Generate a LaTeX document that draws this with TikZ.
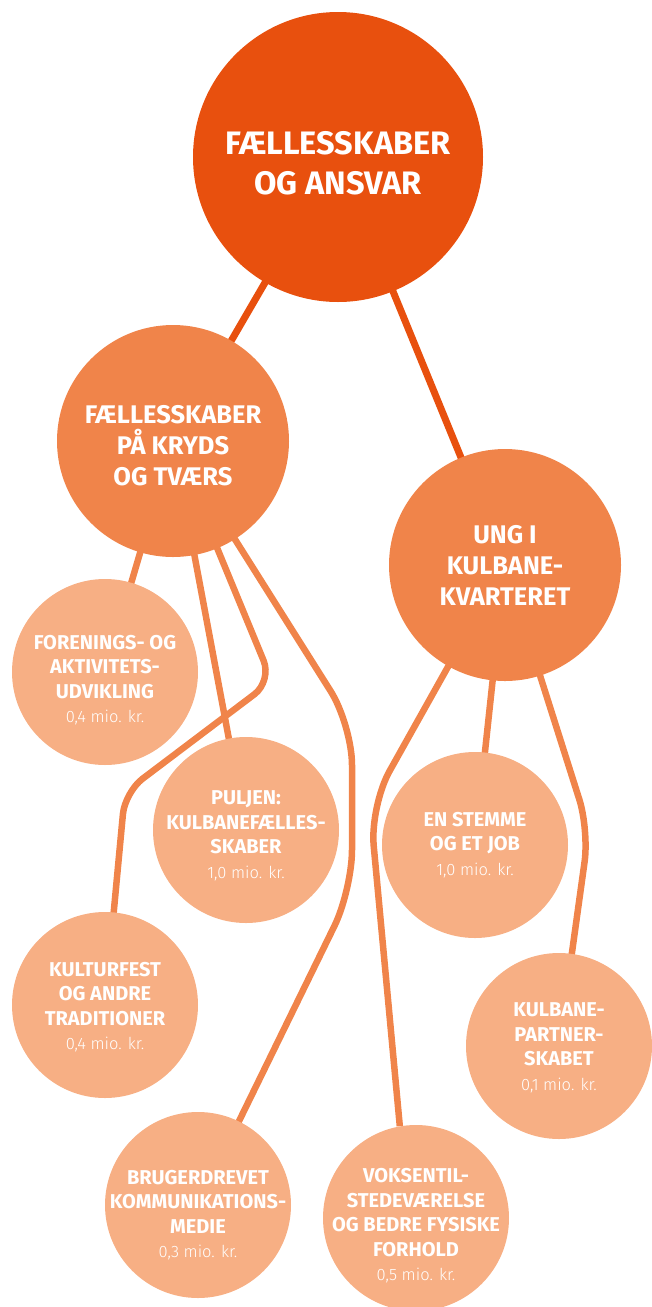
\documentclass[tikz,border=0pt]{standalone}
\usepackage{fontspec}
\setmainfont{Fira Sans}
\newfontfamily\amtfont{Fira Sans Light}
\usetikzlibrary{backgrounds}

\definecolor{toporange}{HTML}{E8500E}
\definecolor{midorange}{HTML}{F0844A}
\definecolor{leaforange}{HTML}{F7AF84}

\newcommand{\amount}[1]{{\amtfont\mdseries\fontsize{16.5}{24.5}\selectfont #1}}

\begin{document}
\begin{tikzpicture}[x=1pt, y=-1pt,
  topcircle/.style={circle, fill=toporange, minimum size=290pt, inner sep=0pt},
  midcircle/.style={circle, fill=midorange, minimum size=232pt, inner sep=0pt},
  leafcircle/.style={circle, fill=leaforange, minimum size=186pt, inner sep=0pt},
  toptext/.style={text=white, align=center, inner sep=0pt, font=\bfseries\fontsize{32.5}{40}\selectfont},
  midtext/.style={text=white, align=center, inner sep=0pt, font=\bfseries\fontsize{25.5}{31}\selectfont},
  leaftext/.style={text=white, align=center, inner sep=0pt, font=\bfseries\fontsize{20}{24.5}\selectfont},
  toplink/.style={draw=toporange, line width=7pt},
  leaflink/.style={draw=midorange, line width=6.5pt},
]
\useasboundingbox (0,0) rectangle (651,1307);

% circles
\node[topcircle] (top) at (338,157) {};
\node[midcircle] (kryds) at (173,441) {};
\node[midcircle] (ung) at (505,565) {};

\node[leafcircle] (forening) at (105,672) {};
\node[leafcircle] (puljen) at (246,830) {};
\node[leafcircle] (stemme) at (475,845) {};
\node[leafcircle] (kulturfest) at (105,1005) {};
\node[leafcircle] (partner) at (559,1046) {};
\node[leafcircle] (bruger) at (198,1205) {};
\node[leafcircle] (voksen) at (416,1218) {};

% texts
\node[toptext, yshift=-6pt] (top-t) at (top) {FÆLLESSKABER\\OG ANSVAR};
\node[midtext, yshift=-5pt] (kryds-t) at (kryds) {FÆLLESSKABER\\PÅ KRYDS\\OG TVÆRS};
\node[midtext] (ung-t) at (ung) {UNG I\\KULBANE-\\KVARTERET};

\node[leaftext, yshift=-8pt] (forening-t) at (forening) {FORENINGS- OG\\AKTIVITETS-\\UDVIKLING\\\amount{0,4 mio. kr.}};
\node[leaftext, yshift=-6pt] (puljen-t) at (puljen) {PULJEN:\\KULBANEFÆLLES-\\SKABER\\\amount{1,0 mio. kr.}};
\node[leaftext] (stemme-t) at (stemme) {EN STEMME\\OG ET JOB\\\amount{1,0 mio. kr.}};
\node[leaftext, yshift=-2pt] (kulturfest-t) at (kulturfest) {KULTURFEST\\OG ANDRE\\TRADITIONER\\\amount{0,4 mio. kr.}};
\node[leaftext, yshift=-2pt] (partner-t) at (partner) {KULBANE-\\PARTNER-\\SKABET\\\amount{0,1 mio. kr.}};
\node[leaftext, yshift=-10pt] (bruger-t) at (bruger) {BRUGERDREVET\\KOMMUNIKATIONS-\\MEDIE\\\amount{0,3 mio. kr.}};
\node[leaftext, yshift=-8pt] (voksen-t) at (voksen) {VOKSENTIL-\\STEDEVÆRELSE\\OG BEDRE FYSISKE\\FORHOLD\\\amount{0,5 mio. kr.}};

% connectors
\begin{pgfonlayer}{background}
\draw[toplink] (top.center) -- (kryds.center);
\draw[toplink] (top.center) -- (ung.center);

\draw[leaflink] (kryds.center) -- (forening.center);
\draw[leaflink] (kryds.center) -- (puljen.center);
\draw[leaflink, rounded corners=22pt] (kryds.center) -- (272,681) -- (125,792) -- (kulturfest.center);
\draw[leaflink, rounded corners=40pt] (kryds.center) -- (352,725) -- (352,890) -- (bruger.center);

\draw[leaflink] (ung.center) -- (stemme.center);
\draw[leaflink, rounded corners=40pt] (ung.center) -- (370,806) -- (voksen.100);
\draw[leaflink, rounded corners=32pt] (ung.center) -- (589,830) -- (partner.center);
\end{pgfonlayer}
\end{tikzpicture}
\end{document}
